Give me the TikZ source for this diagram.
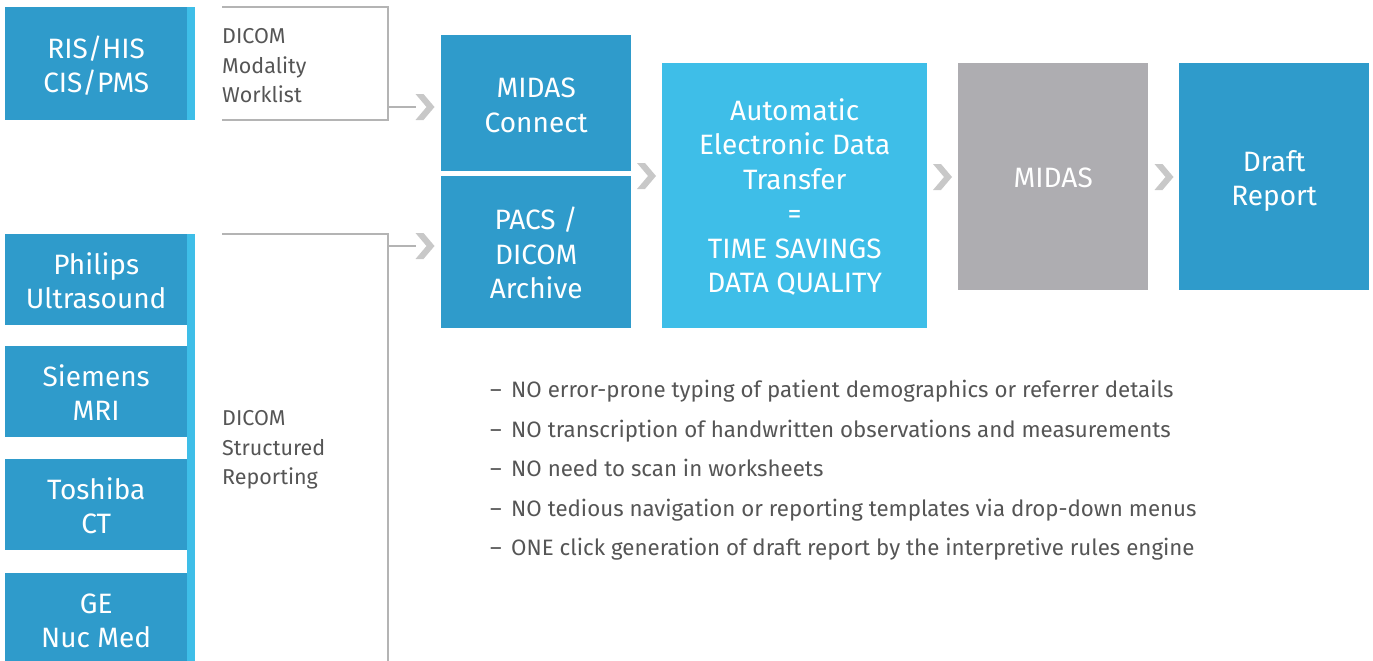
\documentclass[tikz,border=0pt]{standalone}
\usepackage{fontspec}
\setmainfont{Fira Sans}
\definecolor{dblue}{RGB}{47,155,203}
\definecolor{lblue}{RGB}{62,190,232}
\definecolor{mgray}{RGB}{174,173,177}
\definecolor{chevgray}{RGB}{200,200,200}
\definecolor{linegray}{RGB}{180,180,180}
\definecolor{txtgray}{RGB}{85,85,85}
\newcommand{\bx}[2][-5pt]{\raisebox{#1}[\height][\depth]{\begin{tabular}{@{}c@{}}#2\end{tabular}}}
\tikzset{
  boxbase/.style={rectangle, inner sep=0pt, anchor=north west, text=white,
    font=\fontsize{28}{34.5}\selectfont},
  darkbox/.style={boxbase, fill=dblue},
  lightbox/.style={boxbase, fill=lblue},
  graybox/.style={boxbase, fill=mgray},
  stripe/.style={fill=lblue},
  bracket/.style={draw=linegray, line width=1.5pt},
  graytext/.style={inner sep=0pt, anchor=north west, align=left, text=txtgray,
    font=\fontsize{21.5}{29.5}\selectfont},
  listtext/.style={inner sep=0pt, anchor=north west, align=left, text=txtgray,
    font=\fontsize{22.3}{39.5}\selectfont},
  chev/.pic={\fill[chevgray] (-9.5,-13)--(-1.5,-13)--(9.5,0)--(-1.5,13)--(-9.5,13)--(1.5,0)--cycle;}
}
\newcommand{\dsh}{\makebox[21pt][l]{–}}
\begin{document}
\begin{tikzpicture}[x=1pt,y=-1pt]
\useasboundingbox (0,0) rectangle (1373,661);
% left sources
\node[darkbox, minimum width=182pt, minimum height=113pt] (ris) at (5,7) {\bx{RIS/HIS\\CIS/PMS}};
\fill[stripe] (187,7) rectangle (195,120);
\node[darkbox, minimum width=182pt, minimum height=91pt] (phil) at (5,234) {\bx{Philips\\Ultrasound}};
\node[darkbox, minimum width=182pt, minimum height=91pt] (siem) at (5,346) {\bx{Siemens\\MRI}};
\node[darkbox, minimum width=182pt, minimum height=91pt] (tosh) at (5,459) {\bx{Toshiba\\CT}};
\node[darkbox, minimum width=182pt, minimum height=91pt] (ge) at (5,573) {\bx{GE\\Nuc Med}};
\fill[stripe] (187,234) rectangle (195,661);
% bracket texts
\node[graytext] (wl) at (222,28.5) {DICOM\\Modality\\Worklist};
\node[graytext] (sr) at (222,410.5) {DICOM\\Structured\\Reporting};
% middle boxes
\node[darkbox, minimum width=190pt, minimum height=136pt] (conn) at (441,35) {\bx{MIDAS\\Connect}};
\node[darkbox, minimum width=190pt, minimum height=152pt] (pacs) at (441,176) {\bx{PACS /\\DICOM\\Archive}};
\node[lightbox, minimum width=265pt, minimum height=265pt] (auto) at (662,63) {\bx[-4pt]{Automatic\\Electronic Data\\Transfer\\=\\TIME SAVINGS\\DATA QUALITY}};
\node[graybox, minimum width=190pt, minimum height=227pt] (midas) at (958,63) {\bx[-3.5pt]{MIDAS}};
\node[darkbox, minimum width=190pt, minimum height=227pt] (draft) at (1179,63) {\bx{Draft\\Report}};
% brackets and arrows
\coordinate (wlA) at (222,7);
\coordinate (wlB) at (388,7);
\coordinate (wlC) at (388,120);
\coordinate (wlD) at (222,120);
\draw[bracket] (wlA) -- (wlB) -- (wlC) -- (wlD);
\coordinate (srA) at (222,234);
\coordinate (srB) at (388,234);
\coordinate (srC) at (388,661);
\draw[bracket] (srA) -- (srB) -- (srC);
\coordinate (a1s) at (388,107);
\coordinate (a1e) at (416,107);
\coordinate (a2s) at (388,246);
\coordinate (a2e) at (416,246);
\draw[bracket] (a1s) -- (a1e);
\draw[bracket] (a2s) -- (a2e);
\pic at (425,107) {chev};
\pic at (425,246) {chev};
\pic at (646.5,176) {chev};
\pic at (942.5,177) {chev};
\pic at (1164,177) {chev};
% list
\node[listtext] (list) at (490,380) {\dsh NO error-prone typing of patient demographics or referrer details\\
\dsh NO transcription of handwritten observations and measurements\\
\dsh NO need to scan in worksheets\\
\dsh NO tedious navigation or reporting templates via drop-down menus\\
\dsh ONE click generation of draft report by the interpretive rules engine};
\end{tikzpicture}
\end{document}
